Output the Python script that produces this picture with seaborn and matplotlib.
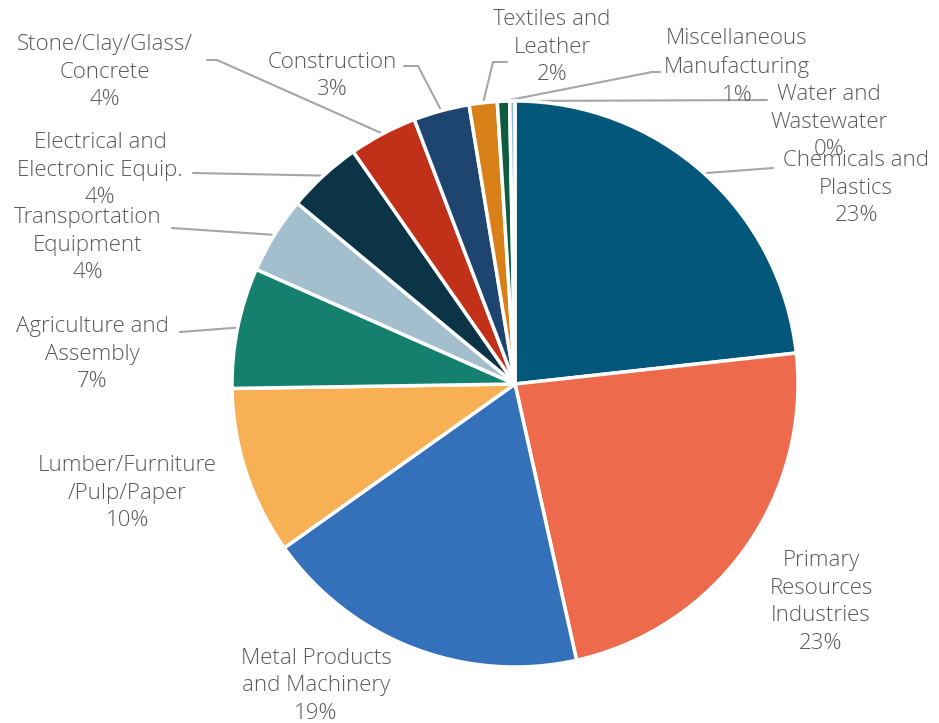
import numpy as np
import matplotlib
matplotlib.use("Agg")
import matplotlib.pyplot as plt
import seaborn as sns

# data (percent of total)
sectors = ["Chemicals and\nPlastics", "Primary\nResources\nIndustries", "Metal Products\nand Machinery",
           "Lumber/Furniture\n/Pulp/Paper", "Agriculture and\nAssembly", "Transportation\nEquipment",
           "Electrical and\nElectronic Equip.", "Stone/Clay/Glass/\nConcrete", "Construction",
           "Textiles and\nLeather", "Miscellaneous\nManufacturing", "Water and\nWastewater"]
shares = [23.3, 23.3, 18.7, 9.6, 6.9, 4.4, 4.3, 3.9, 3.2, 1.6, 0.7, 0.3]
colors = ["#03577A", "#EE6A4D", "#3571BA", "#F8B055", "#15806D", "#A3BFCD",
          "#0C3447", "#C1311A", "#1E4570", "#D98019", "#0F5B40", "#8FB8CC"]

# layout (pixels in a 939x723 canvas): label centre and leader elbow (None = no leader)
label_pos = [(856, 188), (821, 602), (316, 686), (127, 493), (92, 354), (88, 245),
             (100, 170), (105, 72), (332, 76), (552, 47), (737, 67), (829, 122)]
leader_pts = [[(773, 168)], None, None, None, [(180, 332)], [(172, 228)],
              [(193, 173)], [(217, 60), (207, 60)], [(418, 66), (404, 66)],
              [(493, 62), (507, 62)], [(652, 72), (660, 72)], [(767, 100)]]

sns.set_theme(style="white")
plt.rcParams["font.family"] = ["Open Sans", "DejaVu Sans"]

W, H = 939, 723
CX, CY, R = 515, 384, 283

def px(p):
    return ((p[0] - CX) / R, (CY - p[1]) / R)

fig = plt.figure(figsize=(W / 100, H / 100), dpi=100)
ax = fig.add_axes([0, 0, 1, 1])
wedges, _ = ax.pie(shares, colors=colors, startangle=90, counterclock=False, radius=1,
                   wedgeprops=dict(edgecolor="white", linewidth=2.5))
ax.set_xlim(-CX / R, (W - CX) / R)
ax.set_ylim(-(H - CY) / R, CY / R)
ax.set_aspect("equal")
ax.axis("off")

total = sum(shares)
for w, name, v, lp, ld in zip(wedges, sectors, shares, label_pos, leader_pts):
    pct = v / total * 100
    ax.text(*px(lp), f"{name}\n{pct:.0f}%", ha="center", va="center", fontsize=16,
            color="#595959", fontweight="light", linespacing=1.42)
    if ld:
        mid = np.deg2rad((w.theta1 + w.theta2) / 2)
        pts = [(np.cos(mid), np.sin(mid))] + [px(p) for p in ld]
        xs, ys = zip(*pts)
        ax.plot(xs, ys, color="#A6A6A6", lw=1.5, zorder=0)

fig.savefig("out.png", dpi=100, facecolor="white")
